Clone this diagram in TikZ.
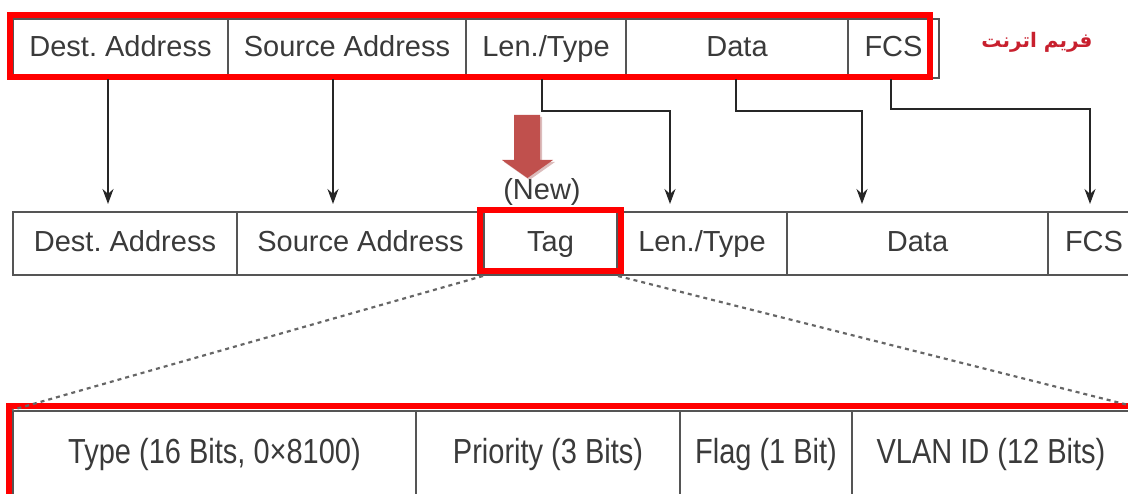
\documentclass[tikz,border=0pt]{standalone}
\usepackage{fontspec}
\usepackage{graphicx}
\setmainfont{Liberation Sans}
\newfontfamily\arabicfont[Script=Arabic]{DejaVu Sans}
\TeXXeTstate=1
\frenchspacing
\usetikzlibrary{arrows.meta}

\definecolor{boxline}{HTML}{555555}
\definecolor{txt}{HTML}{3A3A3A}
\definecolor{hl}{HTML}{FF0000}
\definecolor{newarrow}{HTML}{C0504D}
\definecolor{label}{HTML}{C8202E}

\tikzset{
  cell/.style={draw=boxline, line width=2pt, rectangle, inner sep=0pt,
    text=txt, font=\fontsize{29}{34}\selectfont,
    text height=21pt, text depth=5pt},
  tallcell/.style={cell, minimum height=88pt, text height=25pt, text depth=7pt},
  hlbox/.style={draw=hl, line width=6pt},
  conn/.style={draw=black!85, line width=1.7pt,
    -{Stealth[length=15pt,width=11pt]}, shorten >=7pt},
  zoomline/.style={draw=black!60, line width=2.2pt, dash pattern=on 4pt off 4pt},
}

\newcommand{\tall}[1]{\scalebox{1}[1.2]{#1}}

\begin{document}
\begin{tikzpicture}[x=1pt, y=-1pt]
  \useasboundingbox (0,0) rectangle (1128,494);
  \clip (0,0) rectangle (1128,494);

  % original Ethernet frame
  \node[cell, minimum width=215pt, minimum height=59pt] (t1) at (120.5,48.5) {Dest. Address};
  \node[cell, minimum width=238pt, minimum height=59pt] (t2) at (347,48.5) {Source Address};
  \node[cell, minimum width=160pt, minimum height=59pt] (t3) at (546,48.5) {Len./Type};
  \node[cell, minimum width=222pt, minimum height=59pt] (t4) at (737,48.5) {Data};
  \node[cell, minimum width=91pt, minimum height=59pt] (t5) at (893.5,48.5) {FCS};

  % tagged frame
  \node[cell, minimum width=224pt, minimum height=63pt] (m1) at (125,243.5) {Dest. Address};
  \node[cell, minimum width=247pt, minimum height=63pt] (m2) at (360.5,243.5) {Source Address};
  \node[cell, minimum width=133pt, minimum height=63pt] (m3) at (550.5,243.5) {Tag};
  \node[cell, minimum width=170pt, minimum height=63pt] (m4) at (702,243.5) {Len./Type};
  \node[cell, minimum width=261pt, minimum height=63pt] (m5) at (917.5,243.5) {Data};
  \node[cell, minimum width=92pt, minimum height=63pt] (m6) at (1094,243.5) {FCS};

  % tag fields
  \node[tallcell, minimum width=403pt] (b1) at (214.5,455) {\tall{Type (16 Bits, 0×8100)}};
  \node[tallcell, minimum width=264pt] (b2) at (548,455) {\tall{Priority (3 Bits)}};
  \node[tallcell, minimum width=172pt] (b3) at (766,455) {\tall{Flag (1 Bit)}};
  \node[tallcell, minimum width=278pt] (b4) at (991,455) {\tall{VLAN ID (12 Bits)}};

  % highlight frames
  \draw[hlbox] (9.5,15.5) rectangle (929.5,77.5);
  \draw[hlbox] (479.5,210) rectangle (621,271);
  \draw[hlbox] (9,406) rectangle (1140,500);

  % title
  \node[text=label, font=\arabicfont\bfseries\fontsize{20}{24}\selectfont] (title) at (1037,42) {\beginR فریم اترنت\endR};

  % field mapping
  \draw[conn] ([xshift=-12.5pt]t1.south) -- ([xshift=-17pt]m1.north);
  \draw[conn] ([xshift=-14pt]t2.south) -- ([xshift=-27.5pt]m2.north);
  \draw[conn] ([xshift=-4pt]t3.south) -- ++(0,32) -| ([xshift=-32pt]m4.north);
  \draw[conn] ([xshift=-1pt]t4.south) -- ++(0,32) -| ([xshift=-55.5pt]m5.north);
  \draw[conn] ([xshift=-2.5pt]t5.south) -- ++(0,30) -| ([xshift=-4pt]m6.north);

  % inserted tag marker
  \fill[newarrow!80!black, opacity=0.35] (516,117) -- (542,117) -- (542,162) -- (555,162) -- (529.5,180) -- (504,162) -- (516,162) -- cycle;
  \fill[newarrow] (514,115) -- (540,115) -- (540,160) -- (553,160) -- (527.5,178) -- (502,160) -- (514,160) -- cycle;
  \node[text=txt, font=\fontsize{29}{34}\selectfont] (new) at (542,192) {(New)};

  % tag expansion
  \coordinate (farR) at (1152,411);
  \draw[zoomline] (m3.south west) -- (b1.north west);
  \draw[zoomline] (m3.south east) -- (farR);
\end{tikzpicture}
\end{document}
